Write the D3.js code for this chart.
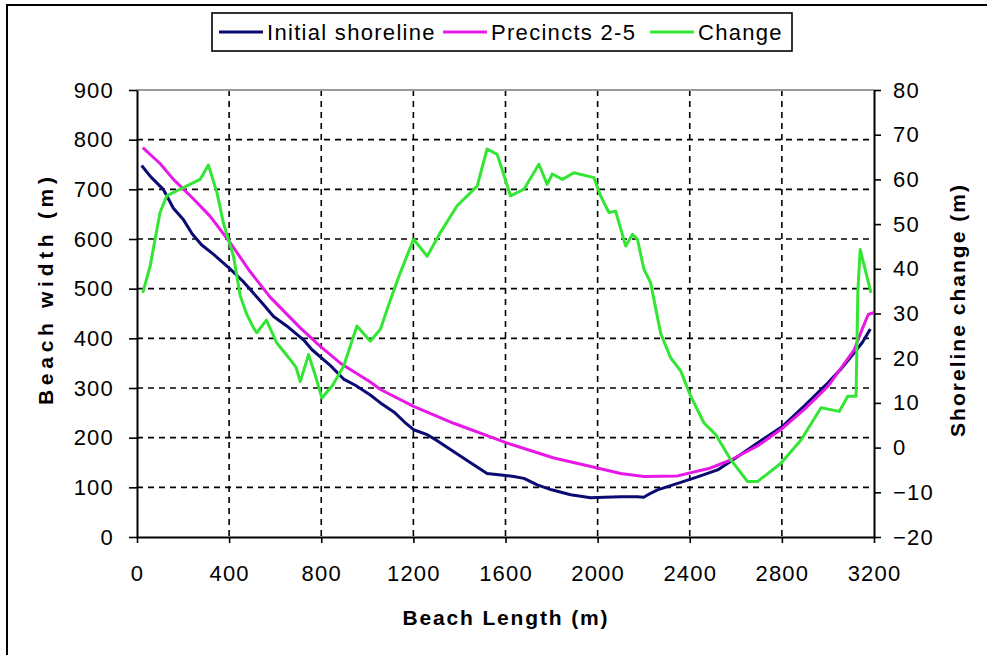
<!DOCTYPE html>
<html>
<head>
<meta charset="utf-8">
<script src="https://cdn.jsdelivr.net/npm/d3@7"></script>
<style>
  body { margin: 0; background: #fff; }
  svg text { font-family: "Liberation Sans", Arial, sans-serif; fill: #000; }
</style>
</head>
<body>
<div id="chart"></div>
<script>
// Beach width (m) along beach length (m)
const initialX = [20, 60, 114, 158, 200, 240, 281, 330, 404, 460, 549, 593, 650, 723, 760, 840, 897, 950, 1013, 1057, 1120, 1160, 1201, 1260, 1300, 1361, 1440, 1480, 1520, 1580, 1636, 1680, 1738, 1800, 1883, 1970, 2030, 2100, 2173, 2200, 2230, 2260, 2361, 2440, 2521, 2593, 2680, 2803, 2900, 2999, 3060, 3114, 3150, 3184];
const initialWidth = [748, 725, 700, 662, 640, 610, 588, 570, 540, 515, 468, 444, 425, 397, 377, 345, 318, 305, 286, 270, 250, 232, 216, 206, 195, 176, 152, 140, 128, 125, 122, 118, 105, 95, 85, 79, 80, 81, 81, 80, 88, 95, 110, 122, 135, 157, 185, 223, 265, 310, 340, 371, 392, 419];

const precinctX = [25, 100, 158, 240, 317, 404, 490, 578, 709, 796, 883, 1013, 1057, 1201, 1375, 1608, 1810, 1999, 2100, 2201, 2347, 2491, 2578, 2700, 2803, 2900, 2999, 3114, 3150, 3175, 3200];
const precinctWidth = [784, 752, 720, 683, 646, 593, 535, 483, 421, 384, 350, 312, 297, 263, 229, 189, 159, 139, 128, 122, 123, 139, 155, 185, 219, 258, 303, 377, 420, 448, 452];

// Shoreline change (m), right axis
const changeX = [25, 57, 100, 129, 187, 274, 310, 347, 375, 419, 448, 475, 506, 520, 562, 607, 665, 690, 709, 745, 775, 803, 850, 897, 955, 1013, 1057, 1100, 1143, 1201, 1260, 1317, 1390, 1477, 1520, 1564, 1622, 1680, 1745, 1781, 1803, 1847, 1897, 1984, 2013, 2049, 2078, 2122, 2151, 2173, 2201, 2230, 2274, 2317, 2361, 2404, 2462, 2513, 2578, 2651, 2694, 2796, 2883, 2970, 3049, 3086, 3122, 3130, 3140, 3158, 3187];
const changeValue = [34.6, 40.6, 52.6, 56.3, 57.8, 60, 63.2, 57.1, 50.3, 42.8, 34, 30, 26.8, 25.7, 28.5, 23.4, 19.7, 18, 14.8, 20.8, 16, 11.1, 14, 18.2, 27.2, 23.8, 26.5, 33, 39.1, 46.6, 42.8, 48.1, 54.1, 58.5, 66.8, 65.6, 56.3, 57.8, 63.4, 58.9, 61.2, 60, 61.5, 60.4, 56.3, 52.6, 52.9, 45.1, 47.7, 46.6, 39.9, 36.9, 25.5, 20.1, 17.1, 11.5, 5.5, 2.9, -2.7, -7.6, -7.6, -3.5, 1.7, 8.9, 8.1, 11.5, 11.5, 35, 44.3, 40.6, 34.6];

const xTicks = [0, 400, 800, 1200, 1600, 2000, 2400, 2800, 3200];
const leftTicks = [0, 100, 200, 300, 400, 500, 600, 700, 800, 900];
const rightTicks = [-20, -10, 0, 10, 20, 30, 40, 50, 60, 70, 80];

const seriesNames = ["Initial shoreline", "Precincts 2-5", "Change"];
const seriesColors = ["#0a0a72", "#e619e6", "#33e633"];

const width = 987, height = 655;
const plotLeft = 137, plotRight = 874, plotTop = 90, plotBottom = 537;

const svg = d3.select("#chart").append("svg")
  .attr("width", width)
  .attr("height", height);

// outer frame
svg.append("rect")
  .attr("x", 7).attr("y", 5)
  .attr("width", 1000).attr("height", 700)
  .attr("fill", "#fff")
  .attr("stroke", "#000")
  .attr("stroke-width", 2);

const x = d3.scaleLinear().domain([0, 3200]).range([plotLeft, plotRight]);
const yL = d3.scaleLinear().domain([0, 900]).range([plotBottom, plotTop]);
const yR = d3.scaleLinear().domain([-20, 80]).range([plotBottom, plotTop]);

// grid
const grid = svg.append("g")
  .attr("stroke", "#000")
  .attr("stroke-width", 1.6)
  .attr("stroke-dasharray", "6,5");

grid.selectAll("line.v")
  .data(xTicks.filter(d => d > 0 && d < 3200))
  .join("line")
  .attr("class", "v")
  .attr("x1", d => x(d)).attr("x2", d => x(d))
  .attr("y1", plotTop).attr("y2", plotBottom);

grid.selectAll("line.h")
  .data(leftTicks.filter(d => d > 0 && d < 900))
  .join("line")
  .attr("class", "h")
  .attr("x1", plotLeft).attr("x2", plotRight)
  .attr("y1", d => yL(d)).attr("y2", d => yL(d));

// top border of plot area
svg.append("line")
  .attr("x1", plotLeft).attr("x2", plotRight)
  .attr("y1", plotTop).attr("y2", plotTop)
  .attr("stroke", "#9a9a9a")
  .attr("stroke-width", 2);

// axes
function styleAxis(g) {
  g.selectAll(".domain").attr("stroke-width", 2);
  g.selectAll(".tick line").attr("stroke-width", 1.6);
  g.selectAll("text")
    .style("font-size", "22px")
    .style("letter-spacing", "1.2px")
    .attr("fill", "#000");
}

svg.append("g")
  .attr("transform", `translate(0,${plotBottom})`)
  .call(d3.axisBottom(x).tickValues(xTicks).tickSizeInner(6).tickSizeOuter(0).tickPadding(22).tickFormat(d3.format("d")))
  .call(styleAxis);

svg.append("g")
  .attr("transform", `translate(${plotLeft},0)`)
  .call(d3.axisLeft(yL).tickValues(leftTicks).tickSizeInner(8).tickSizeOuter(0).tickPadding(15).tickFormat(d3.format("d")))
  .call(styleAxis);

svg.append("g")
  .attr("transform", `translate(${plotRight},0)`)
  .call(d3.axisRight(yR).tickValues(rightTicks).tickSizeInner(7).tickSizeOuter(0).tickPadding(12).tickFormat(d3.format("d")))
  .call(styleAxis);

// lines
const lineL = d3.line().x(d => x(d[0])).y(d => yL(d[1]));
const lineR = d3.line().x(d => x(d[0])).y(d => yR(d[1]));

const lines = [
  { pts: d3.zip(initialX, initialWidth), gen: lineL, color: seriesColors[0] },
  { pts: d3.zip(precinctX, precinctWidth), gen: lineL, color: seriesColors[1] },
  { pts: d3.zip(changeX, changeValue), gen: lineR, color: seriesColors[2] }
];

svg.append("g")
  .attr("fill", "none")
  .selectAll("path")
  .data(lines)
  .join("path")
  .attr("d", d => d.gen(d.pts))
  .attr("stroke", d => d.color)
  .attr("stroke-width", 3)
  .attr("stroke-linejoin", "round");

// axis titles
svg.append("text")
  .attr("transform", "translate(53,291) rotate(-90)")
  .attr("text-anchor", "middle")
  .attr("font-weight", "bold")
  .style("font-size", "21px")
  .attr("textLength", 228)
  .attr("lengthAdjust", "spacing")
  .text("Beach width (m)");

svg.append("text")
  .attr("transform", "translate(965,311) rotate(-90)")
  .attr("text-anchor", "middle")
  .attr("font-weight", "bold")
  .style("font-size", "21px")
  .attr("textLength", 252)
  .attr("lengthAdjust", "spacing")
  .text("Shoreline change (m)");

svg.append("text")
  .attr("x", 505).attr("y", 625)
  .attr("text-anchor", "middle")
  .attr("font-weight", "bold")
  .style("font-size", "21px")
  .attr("textLength", 205)
  .attr("lengthAdjust", "spacing")
  .text("Beach Length (m)");

// legend
const legend = svg.append("g");
legend.append("rect")
  .attr("x", 212).attr("y", 13)
  .attr("width", 580).attr("height", 38)
  .attr("fill", "#fff")
  .attr("stroke", "#000")
  .attr("stroke-width", 1.6);

const legendX = [219, 443, 650];
const item = legend.selectAll("g.item")
  .data(seriesNames)
  .join("g")
  .attr("class", "item")
  .attr("transform", (d, i) => `translate(${legendX[i]},32)`);

item.append("line")
  .attr("x1", 0).attr("x2", 44)
  .attr("stroke", (d, i) => seriesColors[i])
  .attr("stroke-width", 3);

item.append("text")
  .attr("x", 48)
  .attr("dy", "0.36em")
  .style("font-size", "22px")
  .style("letter-spacing", "1.3px")
  .text(d => d);
</script>
</body>
</html>
